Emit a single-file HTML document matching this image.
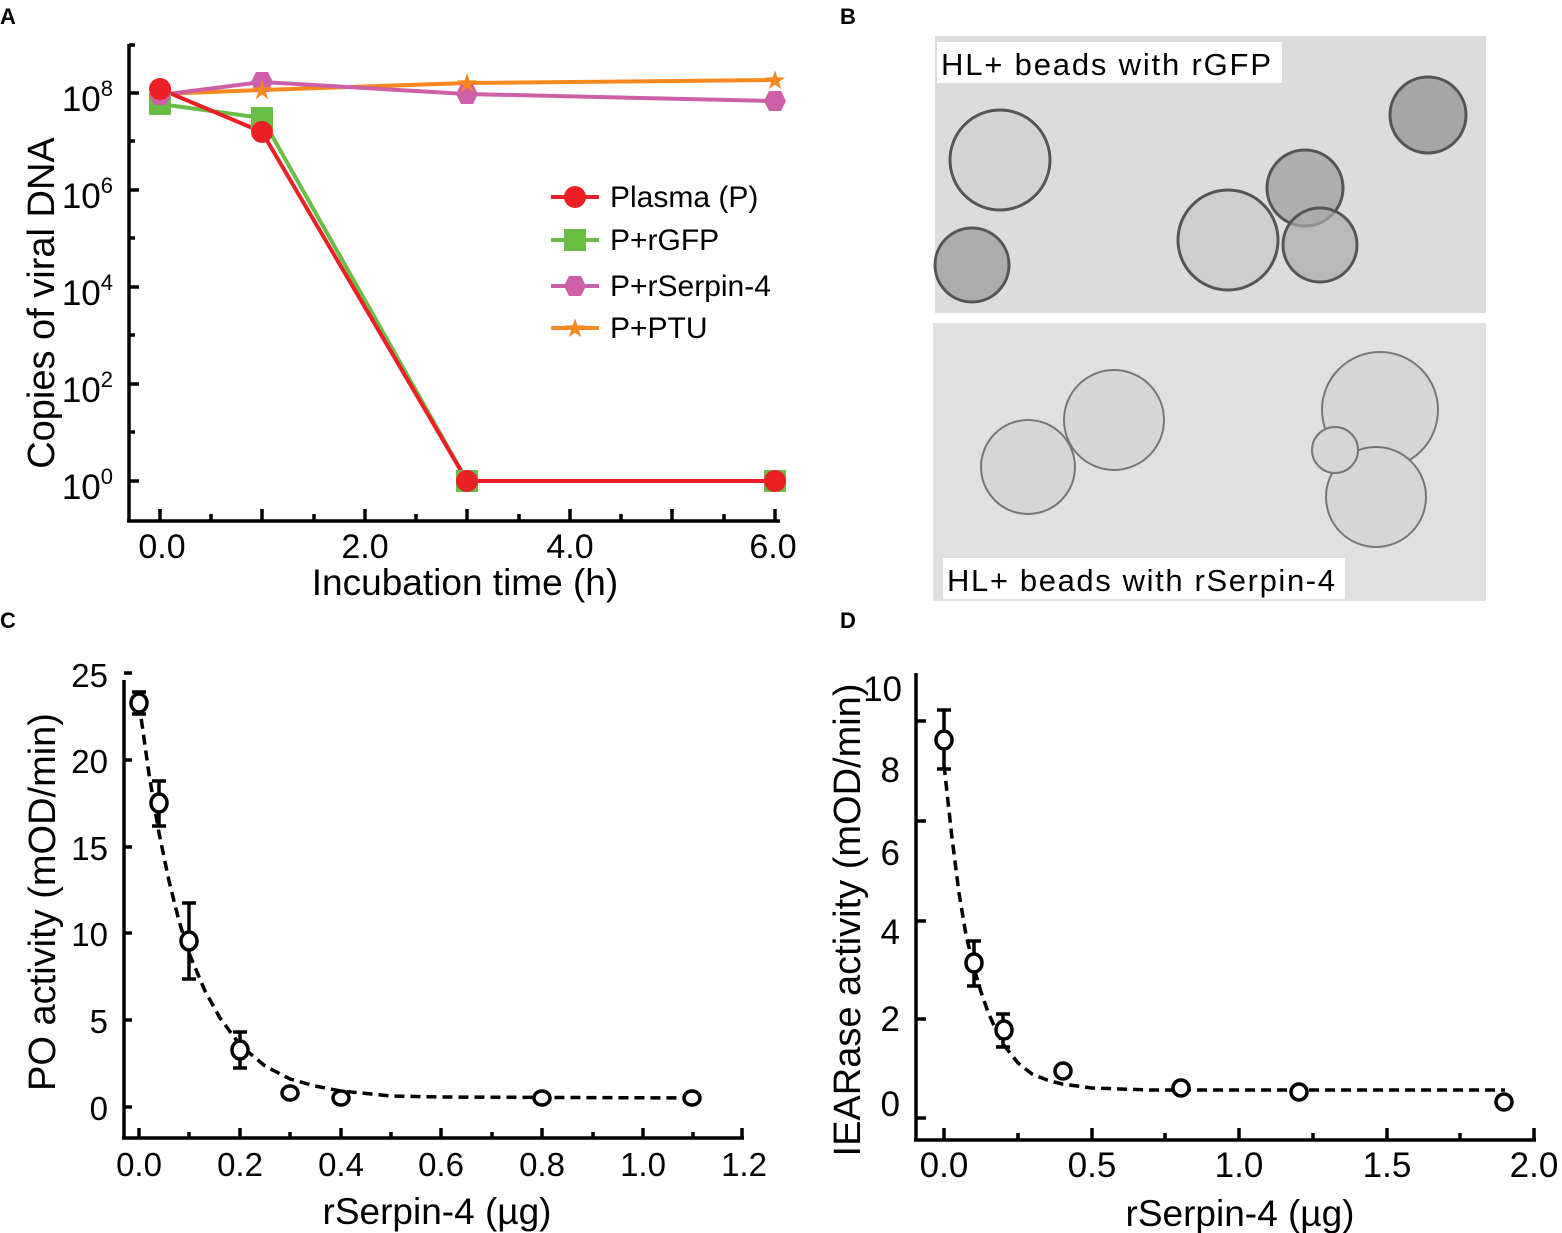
<!DOCTYPE html>
<html><head><meta charset="utf-8"><style>
html,body{margin:0;padding:0;background:#fff;}
svg{display:block;font-family:"Liberation Sans",Arial,sans-serif;}
</style></head><body>
<svg width="1562" height="1233" viewBox="0 0 1562 1233" xmlns="http://www.w3.org/2000/svg">
<g font-weight="bold" font-size="22" fill="#000">
<text x="0" y="24">A</text><text x="840" y="24">B</text><text x="0" y="628">C</text><text x="840" y="628">D</text>
</g>

<!-- Panel A -->
<g stroke="#000" stroke-width="3.5" fill="none">
<line x1="129" y1="44" x2="129" y2="521"/>
<line x1="127" y1="521" x2="780" y2="521"/>
<line x1="129" y1="93" x2="139" y2="93"/><line x1="129" y1="190" x2="139" y2="190"/><line x1="129" y1="287" x2="139" y2="287"/><line x1="129" y1="384" x2="139" y2="384"/><line x1="129" y1="481" x2="139" y2="481"/>
<line x1="129" y1="45" x2="135" y2="45"/><line x1="129" y1="141" x2="135" y2="141"/><line x1="129" y1="238" x2="135" y2="238"/><line x1="129" y1="335" x2="135" y2="335"/><line x1="129" y1="432" x2="135" y2="432"/>
<line x1="160" y1="521" x2="160" y2="509"/><line x1="262" y1="521" x2="262" y2="509"/><line x1="365" y1="521" x2="365" y2="509"/><line x1="467" y1="521" x2="467" y2="509"/><line x1="570" y1="521" x2="570" y2="509"/><line x1="672" y1="521" x2="672" y2="509"/><line x1="775" y1="521" x2="775" y2="509"/>
<line x1="211" y1="521" x2="211" y2="514"/><line x1="314" y1="521" x2="314" y2="514"/><line x1="416" y1="521" x2="416" y2="514"/><line x1="519" y1="521" x2="519" y2="514"/><line x1="621" y1="521" x2="621" y2="514"/><line x1="724" y1="521" x2="724" y2="514"/>
</g>
<g font-size="34" fill="#000" text-anchor="middle">
<text x="162" y="558">0.0</text><text x="365" y="558">2.0</text><text x="570" y="558">4.0</text><text x="773" y="558">6.0</text>
<text x="465" y="595" font-size="37">Incubation time (h)</text>
</g>
<g font-size="35" fill="#000" text-anchor="end">
<text x="113" y="111">10<tspan font-size="22" dy="-15">8</tspan></text>
<text x="113" y="208">10<tspan font-size="22" dy="-15">6</tspan></text>
<text x="113" y="305">10<tspan font-size="22" dy="-15">4</tspan></text>
<text x="113" y="402">10<tspan font-size="22" dy="-15">2</tspan></text>
<text x="113" y="499">10<tspan font-size="22" dy="-15">0</tspan></text>
</g>
<text transform="translate(54,303) rotate(-90)" font-size="38" text-anchor="middle">Copies of viral DNA</text>
<g stroke-width="4" fill="none">
<polyline points="160,94 262,90 467,83 775,80" stroke="#f7881f"/>
<polyline points="160,95 262,82 467,94 775,101" stroke="#cd5fa8"/>
<polyline points="160,104 262,118 467,481 775,481" stroke="#6abd45"/>
<polyline points="160,89 262,132 467,481 775,481" stroke="#ec1f26"/>
</g>
<g fill="#6abd45"><rect x="149" y="93" width="22" height="22"/><rect x="251" y="107" width="22" height="22"/><rect x="456" y="470" width="22" height="22"/><rect x="764" y="470" width="22" height="22"/></g>
<g fill="#cd5fa8"><polygon points="149,95 154,85 166,85 171,95 166,105 154,105"/><polygon points="251,82 256,72 268,72 273,82 268,92 256,92"/><polygon points="456,94 461,84 473,84 478,94 473,104 461,104"/><polygon points="764,101 769,91 781,91 786,101 781,111 769,111"/></g>
<g fill="#f7881f" font-size="26" text-anchor="middle"><text x="262" y="99">★</text><text x="467" y="92">★</text><text x="775" y="89">★</text></g>
<g fill="#ec1f26"><circle cx="160" cy="89" r="11"/><circle cx="262" cy="132" r="11"/><circle cx="467" cy="481" r="11"/><circle cx="775" cy="481" r="11"/></g>
<g stroke-width="4">
<line x1="551" y1="197" x2="599" y2="197" stroke="#ec1f26"/><circle cx="575" cy="197" r="11" fill="#ec1f26"/>
<line x1="551" y1="240" x2="599" y2="240" stroke="#6abd45"/><rect x="564" y="229" width="22" height="22" fill="#6abd45"/>
<line x1="551" y1="286" x2="599" y2="286" stroke="#cd5fa8"/><polygon points="564,286 569,276 581,276 586,286 581,296 569,296" fill="#cd5fa8"/>
<line x1="551" y1="328" x2="599" y2="328" stroke="#f7881f"/>
</g>
<text x="575" y="337" font-size="26" fill="#f7881f" text-anchor="middle">★</text>
<g font-size="30" fill="#000">
<text x="610" y="207">Plasma (P)</text><text x="610" y="250">P+rGFP</text><text x="610" y="296">P+rSerpin-4</text><text x="610" y="338">P+PTU</text>
</g>

<!-- Panel B -->
<rect x="935" y="36" width="551" height="277" fill="#dcdcdc"/>
<rect x="933" y="323" width="553" height="278" fill="#e0e0e0"/>
<g stroke="#555" stroke-width="3" fill-opacity="0.7">
<circle cx="1000" cy="160" r="50" fill="#cfcfcf"/><circle cx="1228" cy="240" r="50" fill="#c8c8c8"/><circle cx="1305" cy="188" r="38" fill="#9a9a9a"/><circle cx="1320" cy="245" r="37" fill="#aaa"/><circle cx="1428" cy="115" r="38" fill="#8f8f8f"/><circle cx="972" cy="265" r="37" fill="#999"/>
</g>
<g stroke="#777" stroke-width="2" fill="#d6d6d6">
<circle cx="1028" cy="467" r="47"/><circle cx="1114" cy="420" r="50"/><circle cx="1380" cy="410" r="58"/><circle cx="1376" cy="497" r="50"/><circle cx="1335" cy="450" r="23"/>
</g>
<rect x="937" y="42" width="345" height="41" fill="#fff"/>
<rect x="943" y="558" width="402" height="41" fill="#fff"/>
<g font-size="31" fill="#000"><text x="941" y="75" textLength="330">HL+ beads with rGFP</text><text x="947" y="591" textLength="388">HL+ beads with rSerpin-4</text></g>

<!-- Panel C -->
<g stroke="#000" stroke-width="3.5" fill="none">
<line x1="124" y1="680" x2="124" y2="1138"/><line x1="122" y1="1138" x2="744" y2="1138"/>
<line x1="124" y1="673" x2="132" y2="673"/><line x1="124" y1="760" x2="132" y2="760"/><line x1="124" y1="847" x2="132" y2="847"/><line x1="124" y1="933" x2="132" y2="933"/><line x1="124" y1="1020" x2="132" y2="1020"/><line x1="124" y1="1107" x2="132" y2="1107"/>
<line x1="139" y1="1138" x2="139" y2="1128"/><line x1="240" y1="1138" x2="240" y2="1128"/><line x1="341" y1="1138" x2="341" y2="1128"/><line x1="441" y1="1138" x2="441" y2="1128"/><line x1="542" y1="1138" x2="542" y2="1128"/><line x1="643" y1="1138" x2="643" y2="1128"/><line x1="742" y1="1138" x2="742" y2="1128"/>
<line x1="189" y1="1138" x2="189" y2="1132"/><line x1="290" y1="1138" x2="290" y2="1132"/><line x1="391" y1="1138" x2="391" y2="1132"/><line x1="492" y1="1138" x2="492" y2="1132"/><line x1="593" y1="1138" x2="593" y2="1132"/><line x1="693" y1="1138" x2="693" y2="1132"/>
<polyline stroke-dasharray="10,6" points="139,703 149,774 159,833 169,881 179,921 189,953 205,991 220,1018 240,1045 265,1066 290,1079 315,1086 341,1091 391,1096 441,1097 693,1098"/>
<path d="M139,692V714M132,692H146M132,714H146 M159,781V826M152,781H166M152,826H166 M189,903V979M182,903H196M182,979H196 M240,1032V1068M233,1032H247M233,1068H247"/>
<ellipse cx="139" cy="703" rx="8" ry="9" fill="#fff"/><ellipse cx="159" cy="803" rx="8" ry="9" fill="#fff"/><ellipse cx="189" cy="941" rx="8" ry="9" fill="#fff"/><ellipse cx="240" cy="1050" rx="8" ry="9" fill="#fff"/><ellipse cx="290" cy="1093" rx="8" ry="7" fill="#fff"/><ellipse cx="341" cy="1098" rx="8" ry="7" fill="#fff"/><ellipse cx="542" cy="1098" rx="8" ry="7" fill="#fff"/><ellipse cx="692" cy="1098" rx="8" ry="7" fill="#fff"/>
</g>
<g font-size="33" fill="#000" text-anchor="end">
<text x="108" y="687">25</text><text x="108" y="773">20</text><text x="108" y="860">15</text><text x="108" y="946">10</text><text x="108" y="1033">5</text><text x="108" y="1120">0</text>
</g>
<g font-size="33" fill="#000" text-anchor="middle">
<text x="139" y="1176">0.0</text><text x="240" y="1176">0.2</text><text x="341" y="1176">0.4</text><text x="441" y="1176">0.6</text><text x="542" y="1176">0.8</text><text x="643" y="1176">1.0</text><text x="744" y="1176">1.2</text>
<text x="437" y="1224" font-size="37">rSerpin-4 (µg)</text>
</g>
<text transform="translate(55,902) rotate(-90)" font-size="38" text-anchor="middle">PO activity (mOD/min)</text>

<!-- Panel D -->
<g stroke="#000" stroke-width="3.5" fill="none">
<line x1="916" y1="673" x2="916" y2="1140"/><line x1="914" y1="1140" x2="1536" y2="1140"/>
<line x1="916" y1="721" x2="926" y2="721"/><line x1="916" y1="821" x2="926" y2="821"/><line x1="916" y1="921" x2="926" y2="921"/><line x1="916" y1="1019" x2="926" y2="1019"/><line x1="916" y1="1118" x2="926" y2="1118"/>
<line x1="944" y1="1140" x2="944" y2="1128"/><line x1="1092" y1="1140" x2="1092" y2="1128"/><line x1="1239" y1="1140" x2="1239" y2="1128"/><line x1="1387" y1="1140" x2="1387" y2="1128"/><line x1="1534" y1="1140" x2="1534" y2="1128"/>
<line x1="1018" y1="1140" x2="1018" y2="1133"/><line x1="1165" y1="1140" x2="1165" y2="1133"/><line x1="1313" y1="1140" x2="1313" y2="1133"/><line x1="1460" y1="1140" x2="1460" y2="1133"/>
<polyline stroke-dasharray="10,6" points="944,765 952,838 959,893 966,935 974,968 981,992 988,1012 996,1030 1003,1044 1018,1063 1032,1074 1047,1080 1062,1084 1092,1088 1150,1090 1505,1090"/>
<path d="M944,710V769M937,710H951M937,769H951 M974,941V986M967,941H981M967,986H981 M1003,1014V1047M996,1014H1010M996,1047H1010"/>
<ellipse cx="944" cy="740" rx="8" ry="9" fill="#fff"/><ellipse cx="974" cy="963" rx="8" ry="9" fill="#fff"/><ellipse cx="1004" cy="1030" rx="8" ry="9" fill="#fff"/><ellipse cx="1063" cy="1071" rx="8" ry="8" fill="#fff"/><ellipse cx="1181" cy="1088" rx="8" ry="8" fill="#fff"/><ellipse cx="1299" cy="1092" rx="8" ry="8" fill="#fff"/><ellipse cx="1504" cy="1102" rx="8" ry="8" fill="#fff"/>
</g>
<g font-size="35" fill="#000" text-anchor="end">
<text x="902" y="701">10</text><text x="900" y="782">8</text><text x="900" y="865">6</text><text x="900" y="944">4</text><text x="900" y="1031">2</text><text x="900" y="1116">0</text>
</g>
<g font-size="35" fill="#000" text-anchor="middle">
<text x="944" y="1177">0.0</text><text x="1092" y="1177">0.5</text><text x="1239" y="1177">1.0</text><text x="1387" y="1177">1.5</text><text x="1534" y="1177">2.0</text>
<text x="1240" y="1226" font-size="37">rSerpin-4 (µg)</text>
</g>
<text transform="translate(860,920) rotate(-90)" font-size="38" text-anchor="middle">IEARase activity (mOD/min)</text>
</svg>
</body></html>
